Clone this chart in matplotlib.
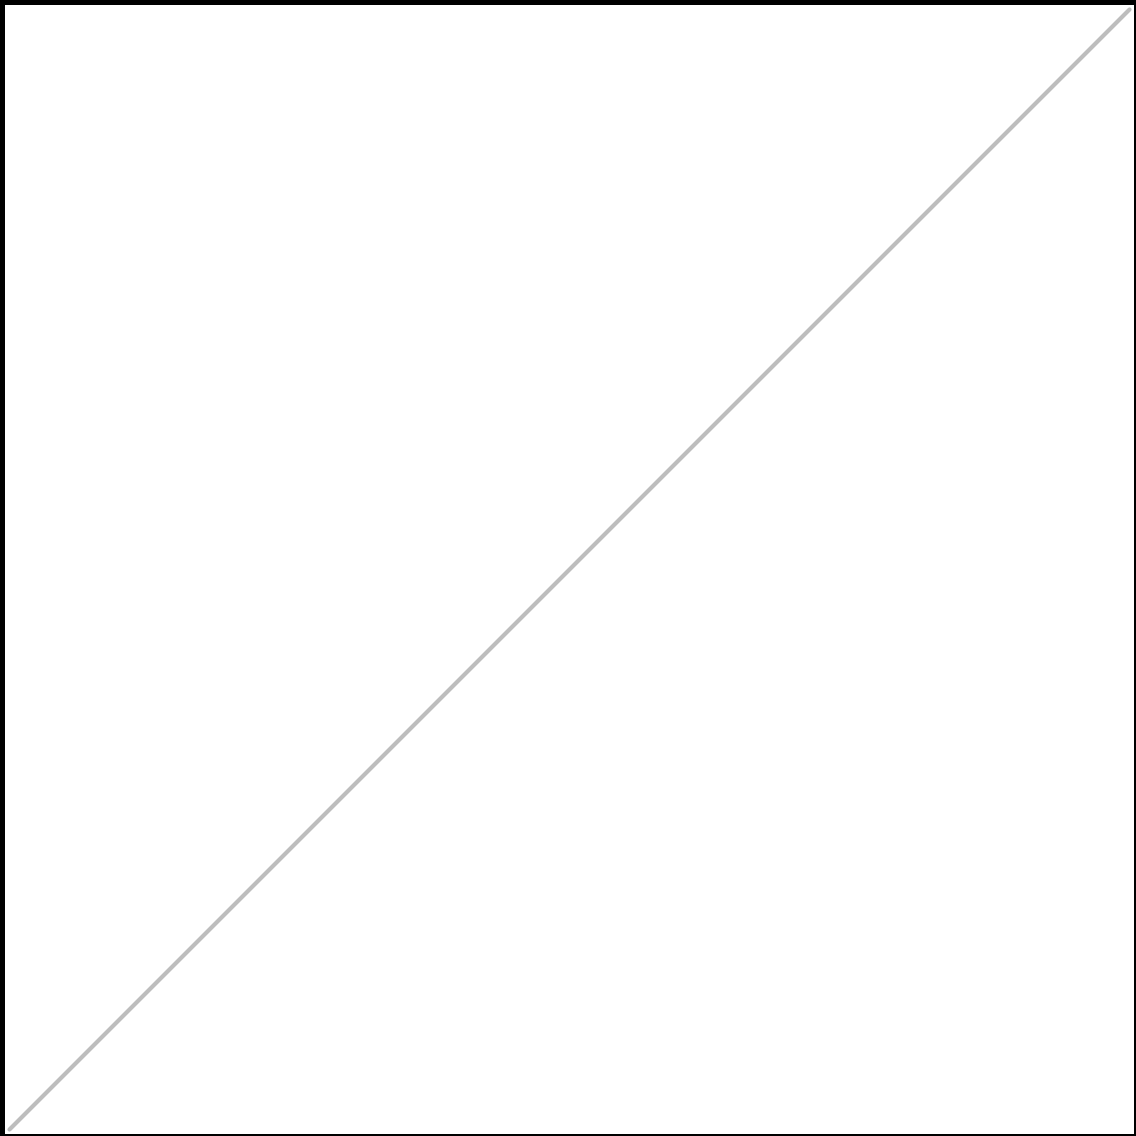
import matplotlib
matplotlib.use("Agg")
import matplotlib.pyplot as plt

x_values = [0.0, 1.0]
y_values = [0.0, 1.0]

fig = plt.figure(figsize=(11.36, 11.36), dpi=100, facecolor="black")
ax = fig.add_axes([5 / 1136, 2 / 1136, 1129 / 1136, 1129 / 1136])
ax.set_facecolor("white")
ax.plot(x_values, y_values, color="#bdbdbd", linewidth=3.0, solid_capstyle="round")
ax.set_xlim(-0.004, 1.004)
ax.set_ylim(-0.004, 1.004)
ax.set_xticks([])
ax.set_yticks([])
for s in ax.spines.values():
    s.set_visible(False)
fig.savefig("out.png", dpi=100, facecolor="black")
